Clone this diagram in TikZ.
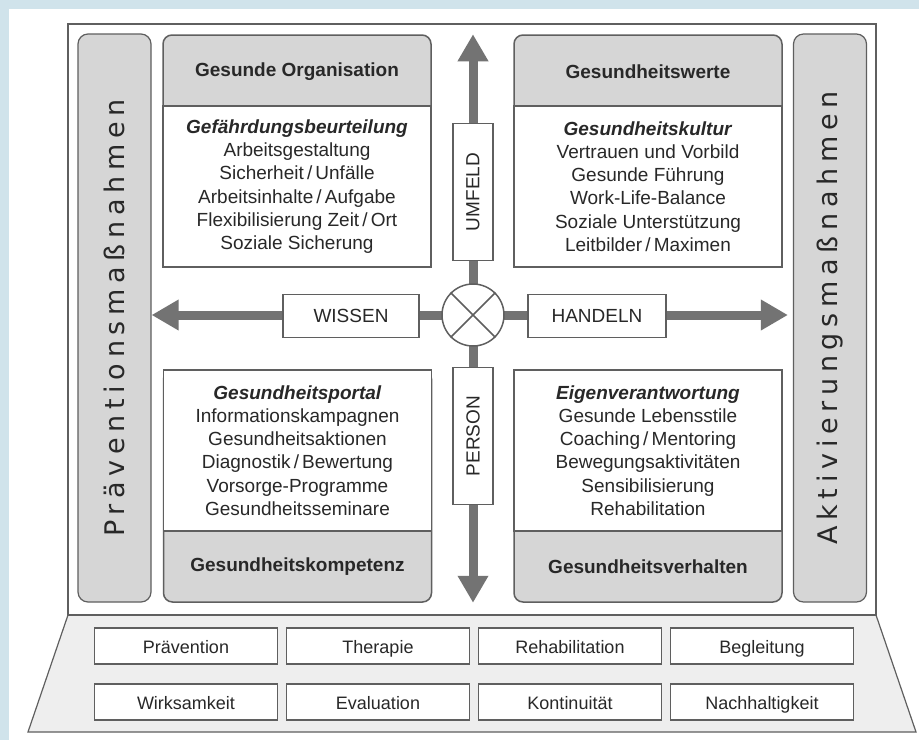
\documentclass[tikz,border=0pt]{standalone}
\usepackage{fontspec}
\setmainfont{Liberation Sans}
\newfontfamily\barfont[LetterSpace=21]{DejaVu Sans}
\usetikzlibrary{arrows.meta}
\definecolor{bgblue}{RGB}{208,227,235}
\definecolor{rimgray}{RGB}{95,95,95}
\definecolor{boxgray}{RGB}{214,214,214}
\definecolor{arrgray}{RGB}{115,115,115}
\definecolor{txtgray}{RGB}{40,40,40}
\definecolor{basegray}{RGB}{238,238,238}

\begin{document}
\begin{tikzpicture}[x=1pt,y=-1pt,
  every node/.style={inner sep=0pt,text=txtgray},
  bar/.style={draw=rimgray,fill=boxgray,line width=1.2pt,rounded corners=10pt,
    minimum width=73pt,minimum height=568pt},
  bartext/.style={rotate=90,font=\barfont\fontsize{27}{27}\selectfont},
  quad/.style={draw=rimgray,fill=boxgray,line width=1.5pt,rounded corners=9pt,
    minimum width=268pt,minimum height=232pt},
  body/.style={draw=rimgray,fill=white,line width=1.5pt,minimum width=268pt,
    minimum height=161pt,align=center,font=\fontsize{19}{23.3}\selectfont},
  head/.style={font=\fontsize{19}{23}\selectfont\bfseries},
  tag/.style={draw=rimgray,fill=white,line width=1.2pt,font=\fontsize{19}{23}\selectfont},
  base/.style={draw=rimgray,fill=white,line width=1.2pt,minimum width=183pt,
    minimum height=36pt,text height=15pt,text depth=0pt,font=\fontsize{18}{22}\selectfont},
  arr/.style={draw=arrgray,line width=9pt,-{Triangle[length=27pt,width=29pt]}}]

  \useasboundingbox (0,0) rectangle (919,740);
  \fill[bgblue] (0,0) rectangle (919,740);
  \fill[white] (9,9) rectangle (919,740);

  % Sockel und Rahmen
  \filldraw[fill=basegray,draw=rimgray,line width=1.2pt]
    (68,615) -- (876,615) -- (916,732) -- (28,732) -- cycle;
  \draw[rimgray,line width=2pt] (68,24) rectangle (876,615);

  % seitliche Balken
  \node[bar] (prav) at (114.5,318) {};
  \node[bartext] (pravtxt) at (prav) {Präventionsmaßnahmen};
  \node[bar] (aktiv) at (830,318) {};
  \node[bartext] (aktivtxt) at (aktiv) {Aktivierungsmaßnahmen};

  % Quadranten
  \node[quad] (orgbox) at (297,151) {};
  \node[body,anchor=south] (orgbody) at (orgbox.south)
    {\textbf{\textit{Gefährdungsbeurteilung}}\\Arbeitsgestaltung\\Sicherheit\,/\,Unfälle\\
     Arbeitsinhalte\,/\,Aufgabe\\Flexibilisierung Zeit\,/\,Ort\\Soziale Sicherung};
  \node[head] (orghead) at (297,72) {Gesunde Organisation};

  \node[quad] (wertbox) at (648,151) {};
  \node[body,anchor=south] (wertbody) at (wertbox.south)
    {\textbf{\textit{Gesundheitskultur}}\\Vertrauen und Vorbild\\Gesunde Führung\\
     Work-Life-Balance\\Soziale Unterstützung\\Leitbilder\,/\,Maximen};
  \node[head] (werthead) at (648,72) {Gesundheitswerte};

  \node[quad] (kombox) at (297.5,486) {};
  \node[body,anchor=north] (kombody) at (kombox.north)
    {\textbf{\textit{Gesundheitsportal}}\\Informationskampagnen\\Gesundheitsaktionen\\
     Diagnostik\,/\,Bewertung\\Vorsorge-Programme\\Gesundheitsseminare};
  \node[head] (komhead) at (297.5,567) {Gesundheitskompetenz};

  \node[quad] (verbox) at (648,486) {};
  \node[body,anchor=north] (verbody) at (verbox.north)
    {\textbf{\textit{Eigenverantwortung}}\\Gesunde Lebensstile\\Coaching\,/\,Mentoring\\
     Bewegungsaktivitäten\\Sensibilisierung\\Rehabilitation};
  \node[head] (verhead) at (648,567) {Gesundheitsverhalten};

  % Achsen
  \coordinate (mid) at (473,315);
  \draw[arr] (mid) -- (mid |- orgbox.north);
  \draw[arr] (mid) -- (mid |- kombox.south);
  \draw[arr] (mid) -- (prav.east |- mid);
  \draw[arr] (mid) -- ([xshift=-5pt]aktiv.west |- mid);

  \node[tag,minimum width=136pt,minimum height=43pt] (wissen) at (351,316) {WISSEN};
  \node[tag,minimum width=138pt,minimum height=43pt] (handeln) at (597,316) {HANDELN};
  \node[tag,minimum width=137pt,minimum height=40pt,rotate=90] (umfeld) at (473,192) {UMFELD};
  \node[tag,minimum width=137pt,minimum height=40pt,rotate=90] (person) at (473,436) {PERSON};

  \node[circle,draw=rimgray,fill=white,line width=1.5pt,minimum size=62pt] (hub) at (mid) {};
  \draw[rimgray,line width=1.5pt] (hub.45) -- (hub.225) (hub.135) -- (hub.315);

  % Sockel-Felder
  \foreach \t [count=\i from 0] in {Prävention,Therapie,Rehabilitation,Begleitung}
    \node[base] (auf\i) at (186+192*\i,646) {\t};
  \foreach \t [count=\i from 0] in {Wirksamkeit,Evaluation,Kontinuität,Nachhaltigkeit}
    \node[base] (ziel\i) at (186+192*\i,702) {\t};
\end{tikzpicture}
\end{document}
